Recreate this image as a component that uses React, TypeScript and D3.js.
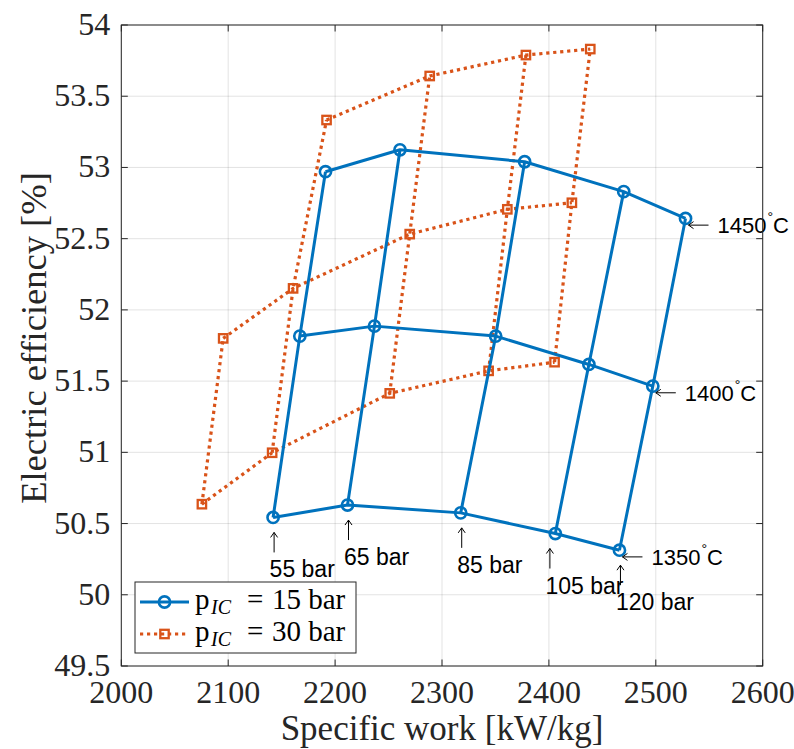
import React from 'react';
import * as d3 from 'd3';

// specific work [kW/kg] and efficiency [%], one array per turbine inlet temperature
// p_IC = 15 bar, columns: 55, 65, 85, 105, 120 bar
const work15T1350 = [2142, 2211.6, 2317.5, 2406, 2466];
const eff15T1350 = [50.543, 50.63, 50.575, 50.43, 50.313];
const work15T1400 = [2167, 2236.8, 2350.2, 2437.4, 2497.2];
const eff15T1400 = [51.816, 51.886, 51.816, 51.617, 51.465];
const work15T1450 = [2191, 2260.7, 2377.3, 2470, 2527.8];
const eff15T1450 = [52.97, 53.124, 53.04, 52.83, 52.642];

// p_IC = 30 bar (no converged point at 55 bar / 1450 C)
const work30T1350 = [2075.4, 2141.1, 2251.1, 2343.6, 2405.3];
const eff30T1350 = [50.636, 50.997, 51.414, 51.572, 51.633];
const work30T1400 = [2095.3, 2160.7, 2269.8, 2361.1, 2421.5];
const eff30T1400 = [51.8, 52.151, 52.532, 52.706, 52.752];
const work30T1450 = [NaN, 2192, 2288.5, 2378.5, 2438.7];
const eff30T1450 = [NaN, 53.333, 53.642, 53.789, 53.831];

const tempLabels = ['1350', '1400', '1450'];
const pressureLabels = ['55 bar', '65 bar', '85 bar', '105 bar', '120 bar'];
const pressureLabelX = [2142, 2211.6, 2317.5, 2400, 2466];
const legendValues = ['15', '30'];

const xTicks = [2000, 2100, 2200, 2300, 2400, 2500, 2600];
const yTicks = [49.5, 50, 50.5, 51, 51.5, 52, 52.5, 53, 53.5, 54];

const W = 794, H = 749;
const left = 121.3, right = 762.7, top = 25, bottom = 666;
const blue = '#0072BD', orange = '#D95319';
const axisColor = '#262626';
const serif = '"Liberation Serif", "DejaVu Serif", serif';
const sans = '"Liberation Sans", Arial, sans-serif';

type Pt = [number, number];

function grid(works: number[][], effs: number[][]) {
  const rows: Pt[][] = works.map((w, i) => w.map((v, j) => [v, effs[i][j]] as Pt));
  const cols: Pt[][] = rows[0].map((_, j) => rows.map(r => r[j]));
  return { rows, cols };
}

export default function App() {
  const x = d3.scaleLinear().domain([2000, 2600]).range([left, right]);
  const y = d3.scaleLinear().domain([49.5, 54]).range([bottom, top]);
  const line = d3.line<Pt>()
    .defined(d => !isNaN(d[0]))
    .x(d => x(d[0]))
    .y(d => y(d[1]));

  const g15 = grid([work15T1350, work15T1400, work15T1450], [eff15T1350, eff15T1400, eff15T1450]);
  const g30 = grid([work30T1350, work30T1400, work30T1450], [eff30T1350, eff30T1400, eff30T1450]);

  const blueStyle = { fill: 'none', stroke: blue, strokeWidth: 3, strokeLinejoin: 'round' as const };
  const orangeStyle = { fill: 'none', stroke: orange, strokeWidth: 3.2, strokeDasharray: '3.2 3.8' };

  const circle = (cx: number, cy: number, k: string) => (
    <circle key={k} cx={cx} cy={cy} r={5.6} fill="none" stroke={blue} strokeWidth={2.6} />
  );
  const square = (cx: number, cy: number, k: string) => (
    <rect key={k} x={cx - 4.2} y={cy - 4.2} width={8.4} height={8.4} fill="none" stroke={orange} strokeWidth={2.3} />
  );

  const rowEnds = g15.rows.map(r => r[r.length - 1]);
  const tickFont = { fontFamily: serif, fontSize: 32, fill: axisColor };

  return (
    <svg width={W} height={H} style={{ position: 'absolute', left: 0, top: 0, background: '#fff' }}>
      <rect x={0} y={0} width={W} height={H} fill="#fff" />
      {/* grid */}
      <g stroke={axisColor} strokeOpacity={0.13} strokeWidth={1}>
        {xTicks.map(t => <line key={'gx' + t} x1={x(t)} x2={x(t)} y1={top} y2={bottom} />)}
        {yTicks.map(t => <line key={'gy' + t} x1={left} x2={right} y1={y(t)} y2={y(t)} />)}
      </g>

      {/* p_IC = 30 bar */}
      <g>
        {g30.rows.map((r, i) => <path key={'or' + i} d={line(r) || ''} {...orangeStyle} />)}
        {g30.cols.map((c, i) => <path key={'oc' + i} d={line(c) || ''} {...orangeStyle} />)}
        {g30.rows.flat().filter(p => !isNaN(p[0])).map((p, i) => square(x(p[0]), y(p[1]), 'os' + i))}
      </g>

      {/* p_IC = 15 bar */}
      <g>
        {g15.rows.map((r, i) => <path key={'br' + i} d={line(r) || ''} {...blueStyle} />)}
        {g15.cols.map((c, i) => <path key={'bc' + i} d={line(c) || ''} {...blueStyle} />)}
        {g15.rows.flat().map((p, i) => circle(x(p[0]), y(p[1]), 'bm' + i))}
      </g>

      {/* temperature annotations */}
      {rowEnds.map((p, i) => {
        const px = x(p[0]), py = y(p[1]);
        const ay = py + 6.7, tip = px + 3;
        return (
          <g key={'ta' + i}>
            <path d={`M${tip},${ay}H${tip + 20}M${tip + 5},${ay - 3.5}L${tip},${ay}L${tip + 5},${ay + 3.5}`}
              fill="none" stroke="#000" strokeWidth={1} />
            <text x={px + 32} y={py + 14.5} fontFamily={sans} fontSize={22} fill="#000">
              {tempLabels[i]}
              <tspan dx={1} dy={-11} fontSize={14}>°</tspan>
              <tspan dy={11}>C</tspan>
            </text>
          </g>
        );
      })}

      {/* pressure annotations */}
      {pressureLabels.map((s, j) => {
        const px = x(pressureLabelX[j]), py = y(eff15T1350[j]);
        const ax = px + 1, tip = py + 15;
        return (
          <g key={'pa' + j}>
            <path d={`M${ax},${tip}V${tip + 20}M${ax - 3.5},${tip + 5}L${ax},${tip}L${ax + 3.5},${tip + 5}`}
              fill="none" stroke="#000" strokeWidth={1} />
            <text x={px - 3.5} y={py + 60} fontFamily={sans} fontSize={23} fill="#000">{s}</text>
          </g>
        );
      })}

      {/* axes box and ticks */}
      <rect x={left} y={top} width={right - left} height={bottom - top} fill="none" stroke={axisColor} strokeWidth={1} />
      <g stroke={axisColor} strokeWidth={1}>
        {xTicks.map(t => (
          <g key={'tx' + t}>
            <line x1={x(t)} x2={x(t)} y1={bottom} y2={bottom - 6.5} />
            <line x1={x(t)} x2={x(t)} y1={top} y2={top + 6.5} />
          </g>
        ))}
        {yTicks.map(t => (
          <g key={'ty' + t}>
            <line x1={left} x2={left + 6.5} y1={y(t)} y2={y(t)} />
            <line x1={right} x2={right - 6.5} y1={y(t)} y2={y(t)} />
          </g>
        ))}
      </g>
      {xTicks.map(t => (
        <text key={'lx' + t} x={x(t)} y={bottom + 37} textAnchor="middle" {...tickFont}>{t}</text>
      ))}
      {yTicks.map(t => (
        <text key={'ly' + t} x={left - 11} y={y(t) + 10} textAnchor="end" {...tickFont}>{t}</text>
      ))}
      <text x={(left + right) / 2} y={740} textAnchor="middle" fontFamily={serif} fontSize={35} fill={axisColor}>
        Specific work [kW/kg]
      </text>
      <text transform={`translate(46,338) rotate(-90)`} textAnchor="middle"
        fontFamily={serif} fontSize={36.5} fill={axisColor}>
        Electric efficiency [%]
      </text>

      {/* legend */}
      <g>
        <rect x={135} y={582} width={221} height={71} fill="#fff" stroke={axisColor} strokeWidth={1} />
        <line x1={140} x2={189} y1={602} y2={602} {...blueStyle} />
        {circle(164.5, 602, 'lc')}
        <line x1={140} x2={189} y1={634} y2={634} {...orangeStyle} />
        {square(164.5, 634, 'ls')}
        {legendValues.map((v, i) => {
          const yy = 609 + i * 32;
          return (
            <g key={v} fontFamily={serif} fill="#000">
              <text x={195} y={yy} fontSize={29}>p</text>
              <text x={211} y={yy + 5} fontSize={20} fontStyle="italic">IC</text>
              <text x={247} y={yy} fontSize={29}>=</text>
              <text x={272} y={yy} fontSize={29}>{v + ' bar'}</text>
            </g>
          );
        })}
      </g>
    </svg>
  );
}
